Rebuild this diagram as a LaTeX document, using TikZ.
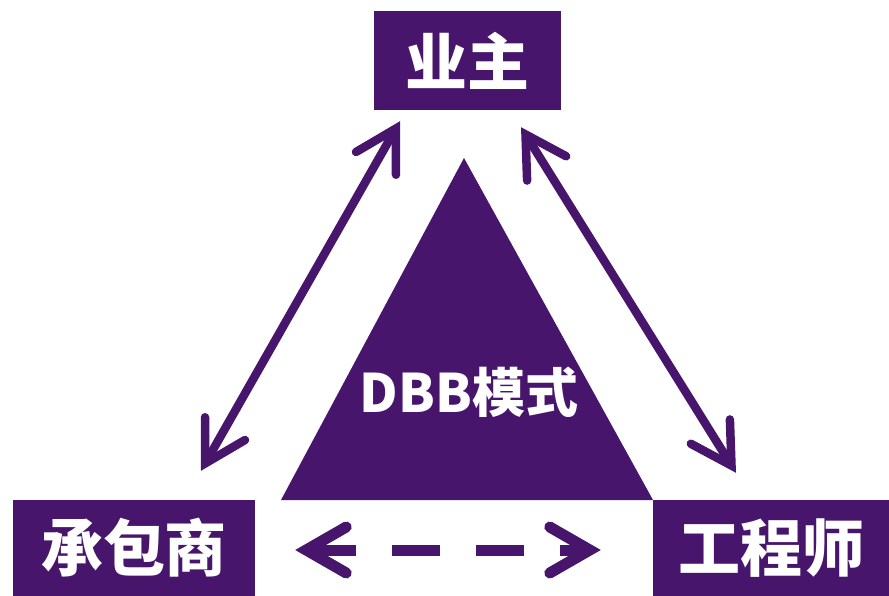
\documentclass[tikz,border=0pt]{standalone}
\usepackage{fontspec}
\newfontfamily\cjk{Noto Sans CJK SC}
\usetikzlibrary{arrows.meta,calc}
\definecolor{dbbpurple}{HTML}{47156C}
\begin{document}
\begin{tikzpicture}[x=1pt,y=-1pt,
  party/.style={fill=dbbpurple, draw=none, text=white, inner sep=0pt,
    font=\cjk\bfseries\fontsize{62}{66}\selectfont},
  barb/.tip={Straight Barb[length=40pt,width=46pt,line cap=round,line join=miter]},
  dblarrow/.style={draw=dbbpurple, line width=8.5pt, barb-barb},
  dasharrow/.style={draw=dbbpurple, line width=11pt,
    dash pattern=on 44pt off 36pt on 48pt off 36pt on 48pt off 36pt on 120pt,
    barb-barb}
  ]
\useasboundingbox (0,0) rectangle (889,596);
\fill[dbbpurple] (464,158) -- (281,500) -- (653,500) -- cycle;
\node[text=white, font=\cjk\bfseries\fontsize{53}{57}\selectfont, inner sep=0pt] (dbb) at (469,392) {DBB模式};
\node[party, minimum width=187pt, minimum height=99pt] (owner) at (467.5,60.5) {业主};
\node[party, minimum width=242pt, minimum height=96pt] (cbs) at (134,548) {承包商};
\node[party, minimum width=236pt, minimum height=96pt] (gcs) at (771,548) {工程师};
\draw[dblarrow] ($(owner.south)+(-67.5,11)$) -- ($(cbs.north)+(67,-29)$);
\draw[dblarrow] ($(owner.south)+(53.5,17)$) -- ($(gcs.north)+(-35,-27)$);
\draw[dasharrow] ($(cbs.east)+(40,2)$) -- ($(gcs.west)+(-52,2)$);
\end{tikzpicture}
\end{document}
